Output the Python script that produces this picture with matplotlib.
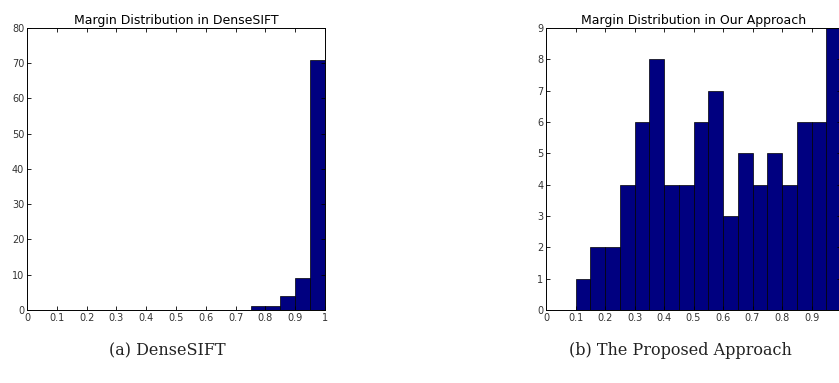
import numpy as np
import matplotlib
matplotlib.use('Agg')
import matplotlib.pyplot as plt

# bin left edges (width 0.05) and counts
dense_bins = [0.75, 0.80, 0.85, 0.90, 0.95]
dense_counts = [1, 1, 4, 9, 71]

ours_bins = [0.10, 0.15, 0.20, 0.25, 0.30, 0.35, 0.40, 0.45, 0.50,
             0.55, 0.60, 0.65, 0.70, 0.75, 0.80, 0.85, 0.90, 0.95]
ours_counts = [1, 2, 2, 4, 6, 8, 4, 4, 6, 7, 3, 5, 4, 5, 4, 6, 6, 9]

bin_width = 0.05
xticks = [0, 0.1, 0.2, 0.3, 0.4, 0.5, 0.6, 0.7, 0.8, 0.9, 1]
xticklabels = ['0', '0.1', '0.2', '0.3', '0.4', '0.5', '0.6', '0.7', '0.8', '0.9', '1']

BAR = '#000080'
TICK_FONT = ['DejaVu Sans']

fig = plt.figure(figsize=(8.39, 3.83), dpi=100)
fig.patch.set_facecolor('white')

ax1 = fig.add_axes([0.0322, 0.1906, 0.3552, 0.7363])
ax2 = fig.add_axes([0.6508, 0.1906, 0.3516, 0.7363])


def style(ax, bins, counts, ymax, ystep, title, xlabels):
    ax.bar(bins, counts, width=bin_width, align='edge', color=BAR,
           edgecolor='black', linewidth=0.5)
    ax.set_xlim(0, 1)
    ax.set_ylim(0, ymax)
    ax.set_xticks(xticks)
    ax.set_xticklabels(xlabels, family=TICK_FONT, fontsize=7, color='#333')
    yt = list(range(0, ymax + 1, ystep))
    ax.set_yticks(yt)
    ax.set_yticklabels([str(v) for v in yt], family=TICK_FONT, fontsize=7, color='#333')
    ax.tick_params(direction='in', length=3, width=0.6, top=True, right=True, pad=2)
    for s in ax.spines.values():
        s.set_linewidth(0.7)
    ax.set_title(title, fontsize=9, family=TICK_FONT, pad=3)


style(ax1, dense_bins, dense_counts, 80, 10, 'Margin Distribution in DenseSIFT', xticklabels)
# the right panel is cropped at x = 1 in the source, so its last label is not visible
style(ax2, ours_bins, ours_counts, 9, 1, 'Margin Distribution in Our Approach',
      xticklabels[:-1] + [''])

fig.text(0.2, 0.085, '(a) DenseSIFT', ha='center', va='center',
         fontsize=11.5, family='DejaVu Serif', color='#222')
fig.text(0.811, 0.085, '(b) The Proposed Approach', ha='center', va='center',
         fontsize=11.5, family='DejaVu Serif', color='#222')

fig.savefig('out.png', dpi=100)
